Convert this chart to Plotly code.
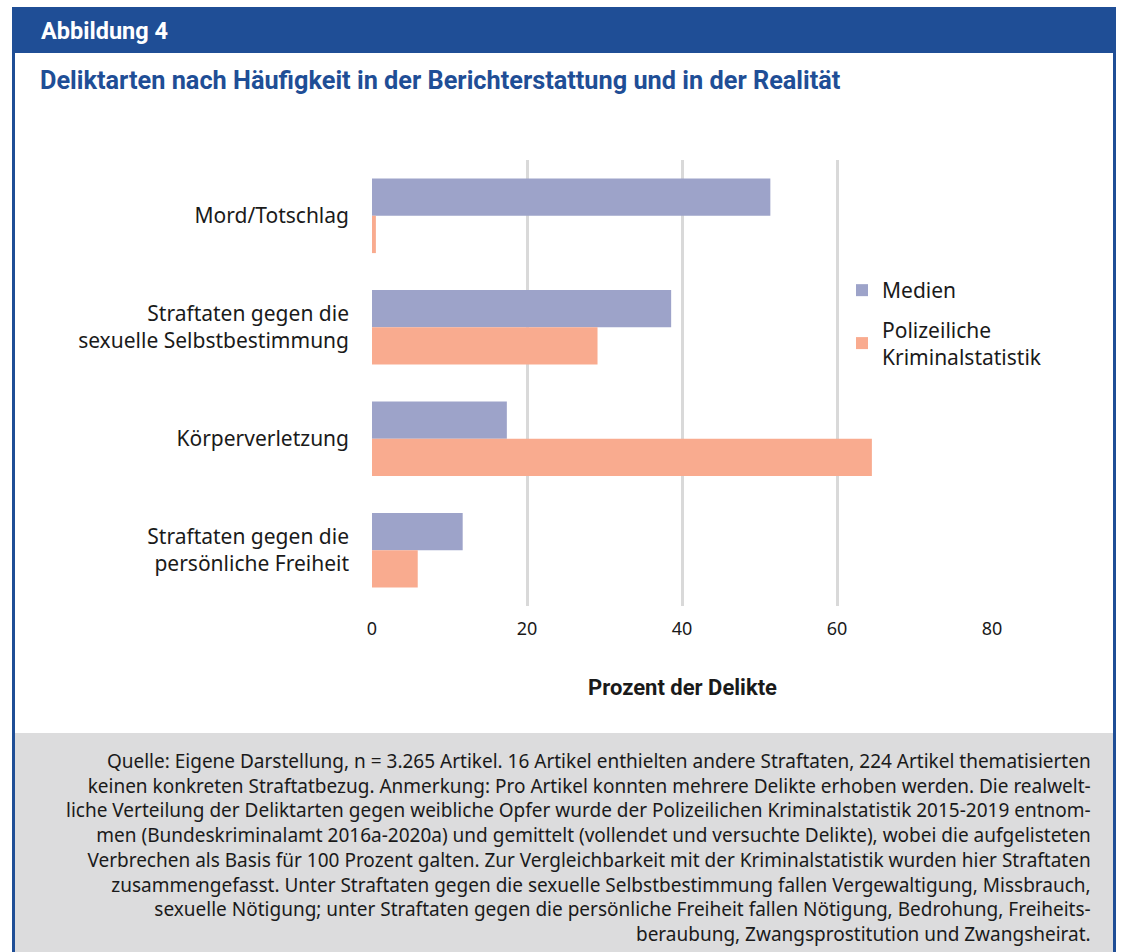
import plotly.graph_objects as go

categories = ["Mord/Totschlag",
              "Straftaten gegen die<br>sexuelle Selbstbestimmung",
              "Körperverletzung",
              "Straftaten gegen die<br>persönliche Freiheit"]
medien = [51.4, 38.6, 17.4, 11.7]
pks = [0.5, 29.1, 64.5, 5.9]
x_ticks = [0, 20, 40, 60, 80]

footer_lines = [
    "Quelle: Eigene Darstellung, n = 3.265 Artikel. 16 Artikel enthielten andere Straftaten, 224 Artikel thematisierten",
    "keinen konkreten Straftatbezug. Anmerkung: Pro Artikel konnten mehrere Delikte erhoben werden. Die realwelt-",
    "liche Verteilung der Deliktarten gegen weibliche Opfer wurde der Polizeilichen Kriminalstatistik 2015-2019 entnom-",
    "men (Bundeskriminalamt 2016a-2020a) und gemittelt (vollendet und versuchte Delikte), wobei die aufgelisteten",
    "Verbrechen als Basis für 100 Prozent galten. Zur Vergleichbarkeit mit der Kriminalstatistik wurden hier Straftaten",
    "zusammengefasst. Unter Straftaten gegen die sexuelle Selbstbestimmung fallen Vergewaltigung, Missbrauch,",
    "sexuelle Nötigung; unter Straftaten gegen die persönliche Freiheit fallen Nötigung, Bedrohung, Freiheits-",
    "beraubung, Zwangsprostitution und Zwangsheirat.",
]

W, H = 1122, 952
BLUE = "#1f4e96"
FONT = "Noto Sans"
TXT = "#1a1a1a"

def px(x):
    return x / W

def py(y):
    return 1 - y / H

fig = go.Figure()
fig.add_trace(go.Bar(y=categories, x=medien, orientation="h", name="Medien",
                     legendgroup="a",
                     marker=dict(color="#9da3c9", line=dict(width=0))))
fig.add_trace(go.Bar(y=categories, x=pks, orientation="h",
                     name="Polizeiliche<br>Kriminalstatistik", legendgroup="b",
                     marker=dict(color="#f9ab8f", line=dict(width=0))))

shapes = [
    dict(type="rect", xref="paper", yref="paper", x0=px(12), x1=px(1116), y0=py(53), y1=py(7),
         fillcolor=BLUE, line=dict(width=0), layer="below"),
    dict(type="rect", xref="paper", yref="paper", x0=px(12), x1=px(15), y0=0, y1=py(53),
         fillcolor=BLUE, line=dict(width=0), layer="below"),
    dict(type="rect", xref="paper", yref="paper", x0=px(1113), x1=px(1116), y0=0, y1=py(53),
         fillcolor=BLUE, line=dict(width=0), layer="below"),
    dict(type="rect", xref="paper", yref="paper", x0=px(15), x1=px(1113), y0=0, y1=py(733),
         fillcolor="#dcdcdd", line=dict(width=0), layer="below"),
]

annotations = [
    dict(text="<b>Abbildung 4</b>", xref="paper", yref="paper", x=px(39), y=py(31),
         xanchor="left", yanchor="middle", showarrow=False,
         font=dict(family="Roboto", size=23.5, color="white")),
    dict(text="<b>Deliktarten nach Häufigkeit in der Berichterstattung und in der Realität</b>",
         xref="paper", yref="paper", x=px(38), y=py(80), xanchor="left", yanchor="middle",
         showarrow=False, font=dict(family="Roboto", size=25.3, color=BLUE)),
    dict(text="<b>Prozent der Delikte</b>", xref="paper", yref="paper", x=px(682), y=py(687),
         xanchor="center", yanchor="middle", showarrow=False,
         font=dict(family="Roboto", size=22, color=TXT)),
    dict(text="<br>".join(footer_lines), xref="paper", yref="paper", x=px(1093),
         y=py(746), xanchor="right", yanchor="top", align="right",
         showarrow=False, font=dict(family=FONT, size=19, color=TXT)),
]

fig.update_layout(
    template="none",
    width=W, height=H,
    margin=dict(l=0, r=0, t=0, b=0, pad=0, autoexpand=False),
    paper_bgcolor="white", plot_bgcolor="white",
    barmode="group", bargap=0.33, bargroupgap=0,
    font=dict(family=FONT, size=21, color=TXT),
    showlegend=True,
    legend=dict(x=px(842), y=py(270), xanchor="left", yanchor="top",
                bgcolor="rgba(0,0,0,0)", font=dict(size=21, family=FONT, color=TXT),
                traceorder="grouped", tracegroupgap=9, itemwidth=30),
    xaxis=dict(domain=[px(372), px(992)], range=[0, 80], tickvals=x_ticks,
               showgrid=True, gridcolor="#d9d9d9", gridwidth=3, zeroline=False,
               showline=False, ticks="", tickfont=dict(size=18, family=FONT, color=TXT),
               ticklabelstandoff=10, automargin=False, fixedrange=True),
    yaxis=dict(domain=[py(606), py(160)], autorange="reversed", showgrid=False,
               showline=False, ticks="", tickfont=dict(size=21, family=FONT, color=TXT),
               ticklabelstandoff=22, automargin=False, fixedrange=True),
    shapes=shapes,
    annotations=annotations,
)

fig.write_html("out.html", config={"displayModeBar": False},
               post_script="document.body.style.margin='0';")
